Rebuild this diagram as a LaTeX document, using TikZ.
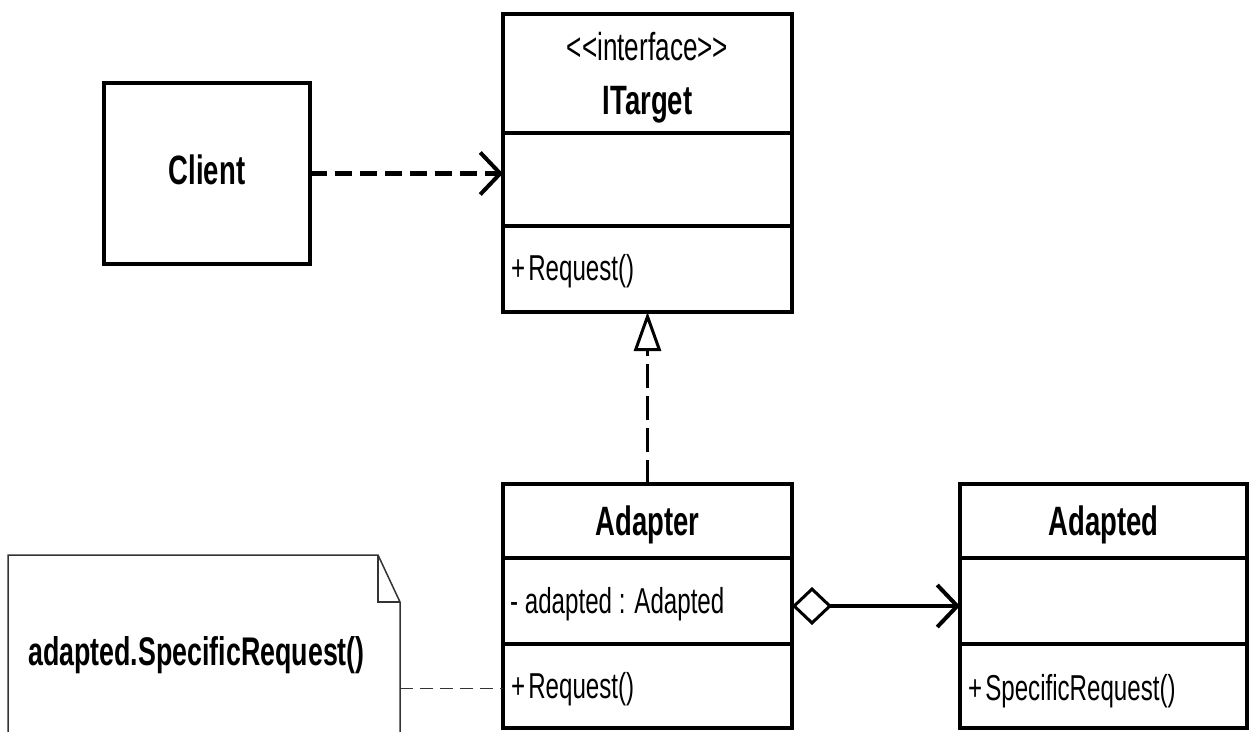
\documentclass[tikz,border=0pt]{standalone}
\usepackage{fontspec}
\setmainfont{Liberation Sans}
\newfontfamily\umlfont[FakeStretch=0.67]{Liberation Sans}
\usetikzlibrary{arrows.meta}
\newcommand{\vis}{+\hspace{3pt}}

\begin{document}
\begin{tikzpicture}[x=1pt,y=-1pt,
  classbox/.style={draw, rectangle, line width=4pt, outer sep=0pt, inner sep=0pt},
  divider/.style={line width=4pt},
  clsname/.style={font=\umlfont\bfseries\fontsize{41}{48}\selectfont, inner sep=0pt, anchor=base},
  stereo/.style={font=\umlfont\fontsize{39}{46}\selectfont, inner sep=0pt, anchor=base},
  member/.style={font=\umlfont\fontsize{36}{43}\selectfont, inner sep=0pt, anchor=base west},
  notearea/.style={rectangle, outer sep=0pt, inner sep=0pt},
  noteline/.style={draw=black!80, line width=1.5pt},
  notetext/.style={font=\umlfont\bfseries\fontsize{40}{48}\selectfont, inner sep=0pt, anchor=base west},
  usedep/.style={line width=4.5pt, dash pattern=on 17pt off 8pt,
    -{Straight Barb[length=20pt, width=42pt, line width=4pt]}},
  realize/.style={line width=3pt, dash pattern=on 24pt off 8pt,
    -{Triangle[open, length=39pt, width=27pt, line width=3pt, fill=white]}},
  aggreg/.style={line width=4.5pt,
    {Diamond[open, length=40pt, width=38pt, line width=3pt, fill=white]}-{Straight Barb[length=20pt, width=42pt, line width=4pt]}},
  notelink/.style={line width=1.5pt, draw=black!80, dash pattern=on 13pt off 7pt}
]
\useasboundingbox (0,0) rectangle (1250,731);
\clip (0,0) rectangle (1250,731);

% class boxes
\node[classbox, minimum width=206pt, minimum height=181pt] (client) at (207,173.5) {};
\node[classbox, minimum width=289pt, minimum height=298pt] (itarget) at (647.5,163) {};
\node[classbox, minimum width=289pt, minimum height=244pt] (adapter) at (647.5,606) {};
\node[classbox, minimum width=287pt, minimum height=244pt] (adapted) at (1103.5,606) {};

% compartments
\draw[divider] (itarget.west |- 0,133) -- (itarget.east |- 0,133);
\draw[divider] (itarget.west |- 0,226) -- (itarget.east |- 0,226);
\draw[divider] (adapter.west |- 0,558) -- (adapter.east |- 0,558);
\draw[divider] (adapter.west |- 0,644) -- (adapter.east |- 0,644);
\draw[divider] (adapted.west |- 0,558) -- (adapted.east |- 0,558);
\draw[divider] (adapted.west |- 0,644) -- (adapted.east |- 0,644);

% texts
\node[clsname] (clientname) at (207,184) {Client};
\node[stereo] (stereotype) at (647.5,60) {<<interface>>};
\node[clsname] (itargetname) at (647.5,114) {ITarget};
\node[member] (itreq) at (511,280) {\vis Request()};
\node[clsname] (adaptername) at (647.5,535) {Adapter};
\node[member] (adfield) at (510,613) {- adapted : Adapted};
\node[member] (adreq) at (511,698) {\vis Request()};
\node[clsname] (adaptedname) at (1103.5,535) {Adapted};
\node[member] (specreq) at (968,700) {\vis SpecificRequest()};

% note with folded corner
\node[notearea, minimum width=392pt, minimum height=200pt] (note) at (204,655) {};
\draw[noteline] (note.south west) -- (note.north west)
  -- ([xshift=-22pt]note.north east) -- ([yshift=-47pt]note.north east)
  -- (note.south east);
\draw[noteline] ([xshift=-22pt]note.north east) -- ([xshift=-22pt,yshift=-47pt]note.north east)
  -- ([yshift=-47pt]note.north east);
\node[notetext] (notetxt) at (28,665) {adapted.SpecificRequest()};

% connectors
\draw[usedep] (client.east) -- (client.east -| itarget.west);
\draw[realize] (adapter.north) -- (itarget.south);
\draw[aggreg] (adapter.east) -- (adapted.west);
\draw[notelink] (adreq.west -| note.east) -- (adreq.west -| adapter.west);
\end{tikzpicture}
\end{document}
